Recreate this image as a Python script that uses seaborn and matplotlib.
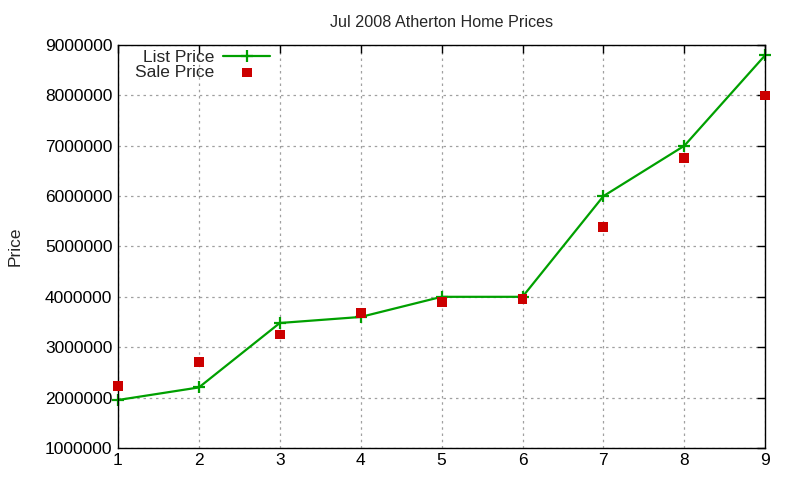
import matplotlib
matplotlib.use("Agg")
import matplotlib.pyplot as plt
import seaborn as sns
import pandas as pd

sns.set_theme(style="white")
plt.rcParams['font.family'] = ['Liberation Sans', 'DejaVu Sans']

# Data
homes = [1, 2, 3, 4, 5, 6, 7, 8, 9]
list_price = [1950000, 2200000, 3480000, 3600000, 4000000, 4000000, 6000000, 7000000, 8800000]
sale_price = [2230000, 2710000, 3250000, 3680000, 3900000, 3950000, 5380000, 6750000, 8000000]

df = pd.DataFrame({'Home': homes, 'List Price': list_price, 'Sale Price': sale_price})

fig = plt.figure(figsize=(8, 4.8), dpi=100)
ax = fig.add_axes([0.1475, 0.067, 0.809, 0.839])

green = '#00a000'
sns.lineplot(data=df, x='Home', y='List Price', ax=ax, color=green, lw=1.6,
             marker='+', markersize=9, markeredgewidth=1.6, markeredgecolor=green,
             label='List Price', clip_on=False)
sns.scatterplot(data=df, x='Home', y='Sale Price', ax=ax, color='#cc0000', marker='s',
                s=50, edgecolor='none', label='Sale Price', zorder=3, clip_on=False)

ax.set_xlim(1, 9)
ax.set_ylim(1000000, 9000000)
ax.set_xticks(homes)
ax.set_yticks(range(1000000, 9000001, 1000000))
ax.ticklabel_format(axis='y', style='plain')
ax.grid(True, color='#a0a0a0', linestyle=(0, (2, 3)), lw=0.9)

for s in ax.spines.values():
    s.set_color('black')
    s.set_linewidth(1.0)
ax.tick_params(direction='in', length=6, width=1, top=True, right=True,
               labelsize=12.5, colors='black', pad=4)

ax.set_title('Jul 2008 Atherton Home Prices', fontsize=11.6, pad=13)
ax.set_xlabel('')
ax.set_ylabel('Price', fontsize=12.5, labelpad=16)

leg = ax.legend(loc='upper right', bbox_to_anchor=(0.242, 1.0), frameon=False,
                fontsize=12.5, markerfirst=False, handlelength=2.7,
                borderaxespad=0.0, borderpad=0.25, handletextpad=0.5, labelspacing=0.02)
for t in leg.get_texts():
    t.set_ha('right')
leg._legend_box.align = 'right'

fig.savefig('out.png', dpi=100)
